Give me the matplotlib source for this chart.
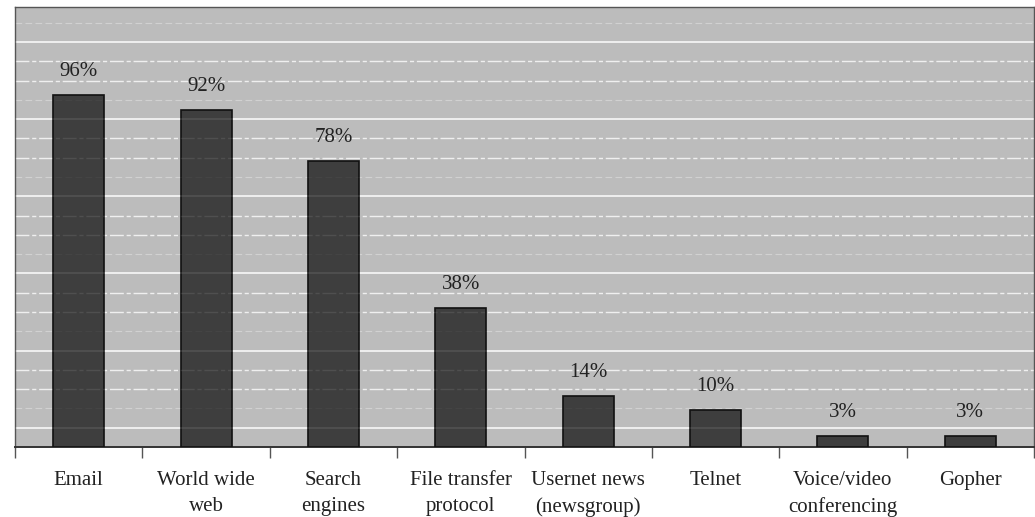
import numpy as np
import matplotlib.pyplot as plt

# Internet services used by respondents (%)
services = ["Email", "World wide\nweb", "Search\nengines", "File transfer\nprotocol",
            "Usernet news\n(newsgroup)", "Telnet", "Voice/video\nconferencing", "Gopher"]
usage = [96, 92, 78, 38, 14, 10, 3, 3]

plt.rcParams['font.family'] = ['Liberation Serif', 'DejaVu Serif']

fig = plt.figure(figsize=(10.35, 5.17), dpi=100)
ax = fig.add_axes([15 / 1035, 70 / 517, 1019 / 1035, 440 / 517])
ax.set_facecolor('#bcbcbc')

x = np.arange(len(services))
ax.bar(x, usage, width=0.4, color='#3e3e3e', edgecolor='#111111', linewidth=1.2, zorder=3)

for xi, v in zip(x, usage):
    ax.text(xi, v + 3.8, f"{v}%", ha='center', va='bottom', fontsize=15, color='#222222', zorder=5)

ax.set_xlim(-0.5, len(services) - 0.5)
ax.set_ylim(0, 120)

# white rules across the plot: every fourth one solid, the rest broken
step = 5.26
for k, y in enumerate(np.arange(step, 120, step), start=1):
    if k % 4 == 1:
        style = dict(lw=1.1, alpha=0.95, ls='-')
    elif k % 4 == 2:
        style = dict(lw=0.8, alpha=0.3, ls=(0, (6, 3)))
    else:
        style = dict(lw=1.0, alpha=0.75, ls=(0, (10, 2, 3, 2)))
    ax.axhline(y, color='white', zorder=1, **style)
    # faint trace of the same rule over the bars
    ax.axhline(y, color='white', zorder=4, lw=style['lw'], ls=style['ls'], alpha=style['alpha'] * 0.12)

ax.set_xticks(x)
ax.set_xticklabels(services, fontsize=15, color='#222222', linespacing=1.5)
ax.tick_params(axis='x', which='major', length=0, pad=17)
ax.set_xticks(np.arange(-0.5, len(services)), minor=True)
ax.tick_params(axis='x', which='minor', length=8, width=1, color='#555555', direction='out')
ax.set_yticks([])

for side in ['top', 'left', 'right']:
    ax.spines[side].set_color('#555555')
    ax.spines[side].set_linewidth(1.0)
ax.spines['bottom'].set_color('#333333')
ax.spines['bottom'].set_linewidth(1.4)

fig.savefig('out.png', dpi=100, facecolor='white')
